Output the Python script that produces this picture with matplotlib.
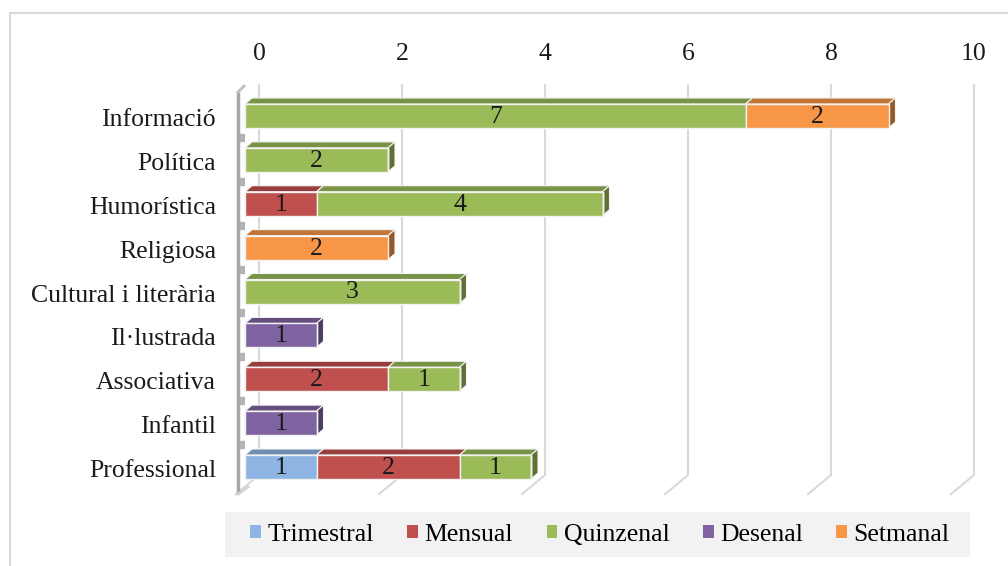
import matplotlib
matplotlib.use("Agg")
import matplotlib.pyplot as plt
from matplotlib.patches import Polygon, Patch, Rectangle
import matplotlib.colors as mcolors
import numpy as np

plt.rcParams['font.family'] = ['Liberation Serif', 'DejaVu Serif']

categories = ['Informació', 'Política', 'Humorística', 'Religiosa',
              'Cultural i literària', 'Il·lustrada', 'Associativa',
              'Infantil', 'Professional']
series = ['Trimestral', 'Mensual', 'Quinzenal', 'Desenal', 'Setmanal']
trimestral = [0, 0, 0, 0, 0, 0, 0, 0, 1]
mensual = [0, 0, 1, 0, 0, 0, 2, 0, 2]
quinzenal = [7, 2, 4, 0, 3, 0, 1, 0, 1]
desenal = [0, 0, 0, 0, 0, 1, 0, 1, 0]
setmanal = [2, 0, 0, 2, 0, 0, 0, 0, 0]
xticks = [0, 2, 4, 6, 8, 10]

values = [trimestral, mensual, quinzenal, desenal, setmanal]
colors = ['#8eb4e3', '#c0504d', '#9bbb59', '#8064a2', '#f79646']


def shade(c, f):
    r, g, b = mcolors.to_rgb(c)
    return (r * f, g * f, b * f)


W, H = 1008, 566
fig = plt.figure(figsize=(W / 100, H / 100), dpi=100)

# outer chart border
fig.patches.append(Rectangle((10 / W, -0.1), 1.2, 1 - 13 / H + 0.1,
                             transform=fig.transFigure, fill=False,
                             edgecolor='#d9d9d9', linewidth=1.5))
# legend background box
fig.patches.append(Rectangle((225 / W, 1 - 557 / H), 745 / W, 45 / H,
                             transform=fig.transFigure, facecolor='#f2f2f2',
                             edgecolor='none'))

# axes: x=0 at the bar front face (px 245), 71.5 px per unit
px_x = 71.5
px_y = 43.875
left_px = 245
top_px = 116 - 0.5 * px_y
ax = fig.add_axes([left_px / W, 1 - (top_px + 9 * px_y) / H,
                   10 * px_x / W, 9 * px_y / H])
ax.set_xlim(0, 10)
ax.set_ylim(8.5, -0.5)
ax.axis('off')

ux = 1 / px_x   # one pixel in x data units
uy = 1 / px_y   # one pixel in y data units
back = 14 * ux  # back wall offset
dx, dy = 7 * ux, 6 * uy
h = 24 * uy

# gridlines on back wall with slanted floor part
ytop = -0.5 - 9 * uy
ybot = -0.5 + 381 * uy
for v in xticks:
    xg = v + back
    ax.plot([xg, xg, xg - 23 * ux], [ytop, ybot, ybot + 19 * uy],
            color='#d9d9d9', lw=1.5, clip_on=False, zorder=1)
    ax.text(xg, -0.5 - 40 * uy, str(v), ha='center', va='center',
            fontsize=18.5, color='#1a1a1a', clip_on=False)

# left wall
xw = -7 * ux
ax.plot([xw, xw], [-0.5 - 2 * uy, 8.5 + 5 * uy], color='#a6a6a6', lw=2.5,
        clip_on=False, zorder=2, solid_capstyle='butt')
ax.plot([xw, xw + 6 * ux], [-0.5 - 2 * uy, -0.5 - 8 * uy], color='#bfbfbf',
        lw=2, clip_on=False, zorder=2)
for i in range(1, len(categories)):
    yb = i - 0.5
    ax.plot([xw + 2 * ux, xw + 7 * ux], [yb, yb], color='#b3b3b3', lw=6,
            clip_on=False, zorder=2, solid_capstyle='butt')
ax.plot([xw, xw + 10 * ux], [8.5 + 5 * uy, 8.5 - 2 * uy], color='#d0d0d0',
        lw=2, clip_on=False, zorder=2)

# bars
y = np.arange(len(categories))
lefts = np.zeros(len(categories))
last_end = np.array([sum(v[i] for v in values) for i in range(len(categories))])
for vals, c in zip(values, colors):
    vals = np.array(vals, dtype=float)
    for i in range(len(categories)):
        w = vals[i]
        if w == 0:
            continue
        L = lefts[i]
        yt = y[i] - h / 2
        ax.add_patch(Polygon([(L, yt), (L + w, yt), (L + w + dx, yt - dy),
                              (L + dx, yt - dy)], closed=True,
                             facecolor=shade(c, 0.78), edgecolor='#f4f4f4',
                             lw=0.8, zorder=3, clip_on=False))
        if L + w == last_end[i]:
            ax.add_patch(Polygon([(L + w, yt), (L + w + dx, yt - dy),
                                  (L + w + dx, yt + h - dy), (L + w, yt + h)],
                                 closed=True, facecolor=shade(c, 0.6),
                                 edgecolor='#f4f4f4', lw=0.8, zorder=3,
                                 clip_on=False))
    ax.barh(y, vals, left=lefts, height=h, color=c, edgecolor='#f2f2f2',
            linewidth=1.0, zorder=4, clip_on=False)
    for i in range(len(categories)):
        if vals[i] > 0:
            ax.text(lefts[i] + vals[i] / 2, y[i] + 1 * uy, f'{int(vals[i])}',
                    ha='center', va='center', fontsize=18.5, color='#1a1a1a',
                    zorder=5)
    lefts += vals

# category labels
for i, cat in enumerate(categories):
    ax.text(-29 * ux, y[i] + 4 * uy, cat, ha='right', va='center',
            fontsize=18.5, color='#1a1a1a', clip_on=False)

# legend
handles = [Patch(facecolor=c, edgecolor='none') for c in colors]
leg = fig.legend(handles, series, loc='center', ncol=5,
                 bbox_to_anchor=(600 / W, 1 - 535 / H), fontsize=18.5,
                 frameon=False, handlelength=0.42,
                 handleheight=0.42, handletextpad=0.25, columnspacing=1.3,
                 borderpad=0.4, borderaxespad=0)

fig.savefig('out.png', dpi=100, facecolor='white')
